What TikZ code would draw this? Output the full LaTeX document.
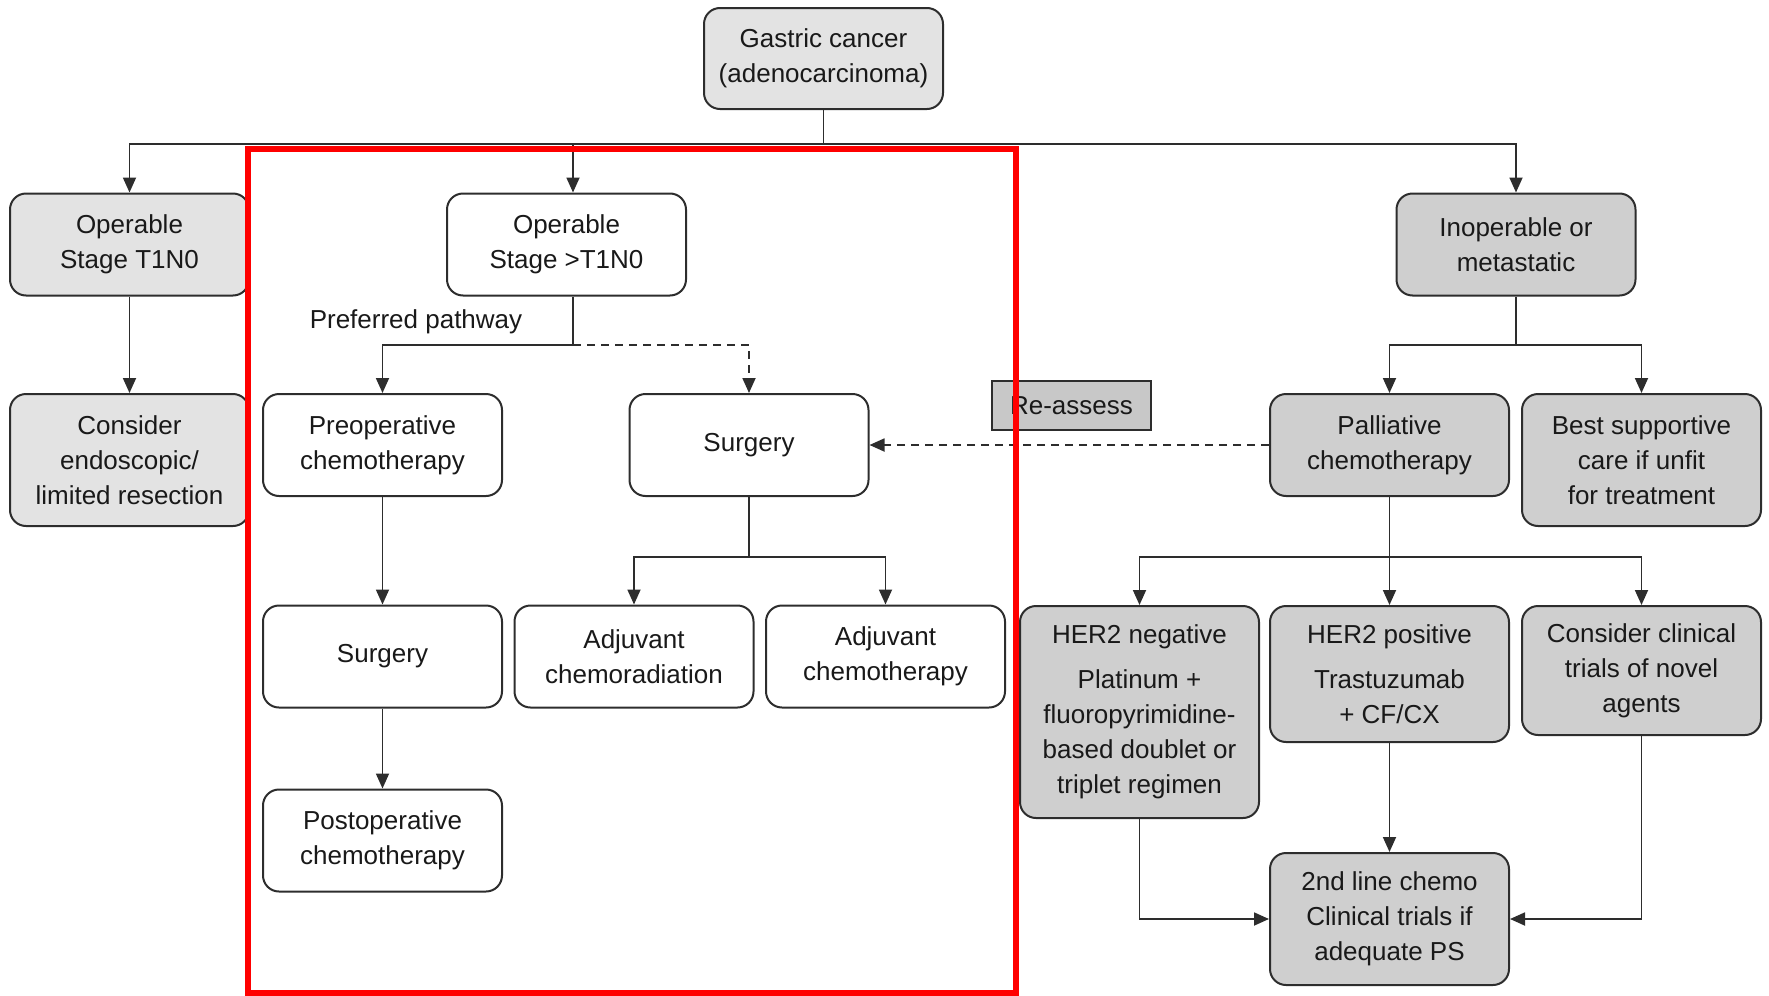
\documentclass[tikz,border=0pt]{standalone}
\usepackage{fontspec}
\setmainfont{Liberation Sans}
\usetikzlibrary{arrows.meta,positioning}
\definecolor{boxlight}{RGB}{227,227,227}
\definecolor{boxdark}{RGB}{207,207,207}
\definecolor{assessgray}{RGB}{200,200,200}
\definecolor{edgegray}{RGB}{45,45,45}
\definecolor{markred}{RGB}{255,0,0}

\begin{document}
\begin{tikzpicture}[x=0.5pt,y=-0.5pt,
  box/.style={draw=edgegray, line width=1pt, rounded corners=8pt, align=center,
    inner sep=2pt, minimum width=119.5pt, minimum height=51pt,
    font=\fontsize{13}{17.5}\selectfont, text=black!90},
  lightbox/.style={box, fill=boxlight},
  darkbox/.style={box, fill=boxdark},
  arr/.style={draw=edgegray, line width=0.9pt, -{Triangle[length=7.5pt,width=6.5pt]}},
  link/.style={draw=edgegray, line width=0.9pt},
  dashlink/.style={dash pattern=on 4pt off 3pt}]
  \useasboundingbox (0,0) rectangle (1769,996);

  % top and left (early) column
  \node[lightbox, minimum height=50.5pt] (gastric) at (823.5,58.5) {Gastric cancer\\(adenocarcinoma)};
  \node[lightbox] (opearly) at (129.5,244.5) {Operable\\Stage T1N0};
  \node[lightbox, minimum height=66pt] (endo) at (129.5,460) {Consider\\endoscopic/\\limited resection};

  % operable > T1N0 (highlighted part)
  \node[box] (opadv) at (566.5,244.5) {Operable\\Stage >T1N0};
  \node[font=\fontsize{13}{17.5}\selectfont, text=black!90] (prefl) at (416,322) {Preferred pathway};
  \node[box] (preop) at (382.5,445) {Preoperative\\chemotherapy};
  \node[box] (surgB) at (749,445) {Surgery};
  \node[box] (surgA) at (382.5,656.5) {Surgery};
  \node[box] (postop) at (382.5,840.5) {Postoperative\\chemotherapy};
  \node[box] (adjcrt) at (634,656.5) {Adjuvant\\chemoradiation};
  \node[box] (adjct) at (885.5,656.5) {Adjuvant\\chemotherapy};

  % inoperable side
  \node[draw=edgegray, line width=1pt, fill=assessgray, minimum width=79.5pt, minimum height=24.5pt,
    inner sep=0pt, font=\fontsize{13}{17.5}\selectfont, text=black!90] (reassess) at (1071.5,405.5) {Re-assess};
  \node[darkbox] (inop) at (1516,244.5) {Inoperable or\\metastatic};
  \node[darkbox] (pall) at (1389.5,445) {Palliative\\chemotherapy};
  \node[darkbox, minimum height=66pt] (bsc) at (1641.5,460) {Best supportive\\care if unfit\\for treatment};
  \node[darkbox, minimum height=106pt] (herneg) at (1139.5,712) {HER2 negative\\[5pt]Platinum +\\fluoropyrimidine-\\based doublet or\\triplet regimen};
  \node[darkbox, minimum height=68pt] (herpos) at (1389.5,674) {HER2 positive\\[5pt]Trastuzumab\\+ CF/CX};
  \node[darkbox, minimum height=64.5pt] (trials) at (1641.5,670.5) {Consider clinical\\trials of novel\\agents};
  \node[darkbox, minimum height=66pt] (second) at (1389.5,919) {2nd line chemo\\Clinical trials if\\adequate PS};

  % branch points
  \coordinate (brTop) at (823.5,144);
  \coordinate (brOp) at (573,345);
  \coordinate (brSurg) at (749,557);
  \coordinate (brInop) at (1516,345);
  \coordinate (brPall) at (1389.5,557);

  \draw[link] (gastric) -- (brTop);
  \draw[arr] (brTop) -| (opearly.north);
  \draw[arr] (brTop) -| (brOp |- opadv.north);
  \draw[arr] (brTop) -| (inop.north);
  \draw[arr] (opearly) -- (endo);

  \draw[link] (brOp |- opadv.south) -- (brOp);
  \draw[arr] (brOp) -| (preop.north);
  \draw[arr, dashlink] (brOp) -| (surgB.north);
  \draw[arr] (preop) -- (surgA);
  \draw[arr] (surgA) -- (postop);
  \draw[link] (surgB) -- (brSurg);
  \draw[arr] (brSurg) -| (adjcrt.north);
  \draw[arr] (brSurg) -| (adjct.north);

  \draw[link] (inop) -- (brInop);
  \draw[arr] (brInop) -| (pall.north);
  \draw[arr] (brInop) -| (bsc.north);
  \draw[arr, dashlink] (pall) -- (surgB);
  \draw[link] (pall) -- (brPall);
  \draw[arr] (brPall) -| (herneg.north);
  \draw[arr] (brPall) -| (herpos.north);
  \draw[arr] (brPall) -| (trials.north);
  \draw[arr] (herpos) -- (second);
  \draw[arr] (herneg.south) |- (second.west);
  \draw[arr] (trials.south) |- (second.east);

  % red highlight frame
  \draw[markred, line width=3pt] (247.5,148.5) rectangle (1016,993);
\end{tikzpicture}
\end{document}
